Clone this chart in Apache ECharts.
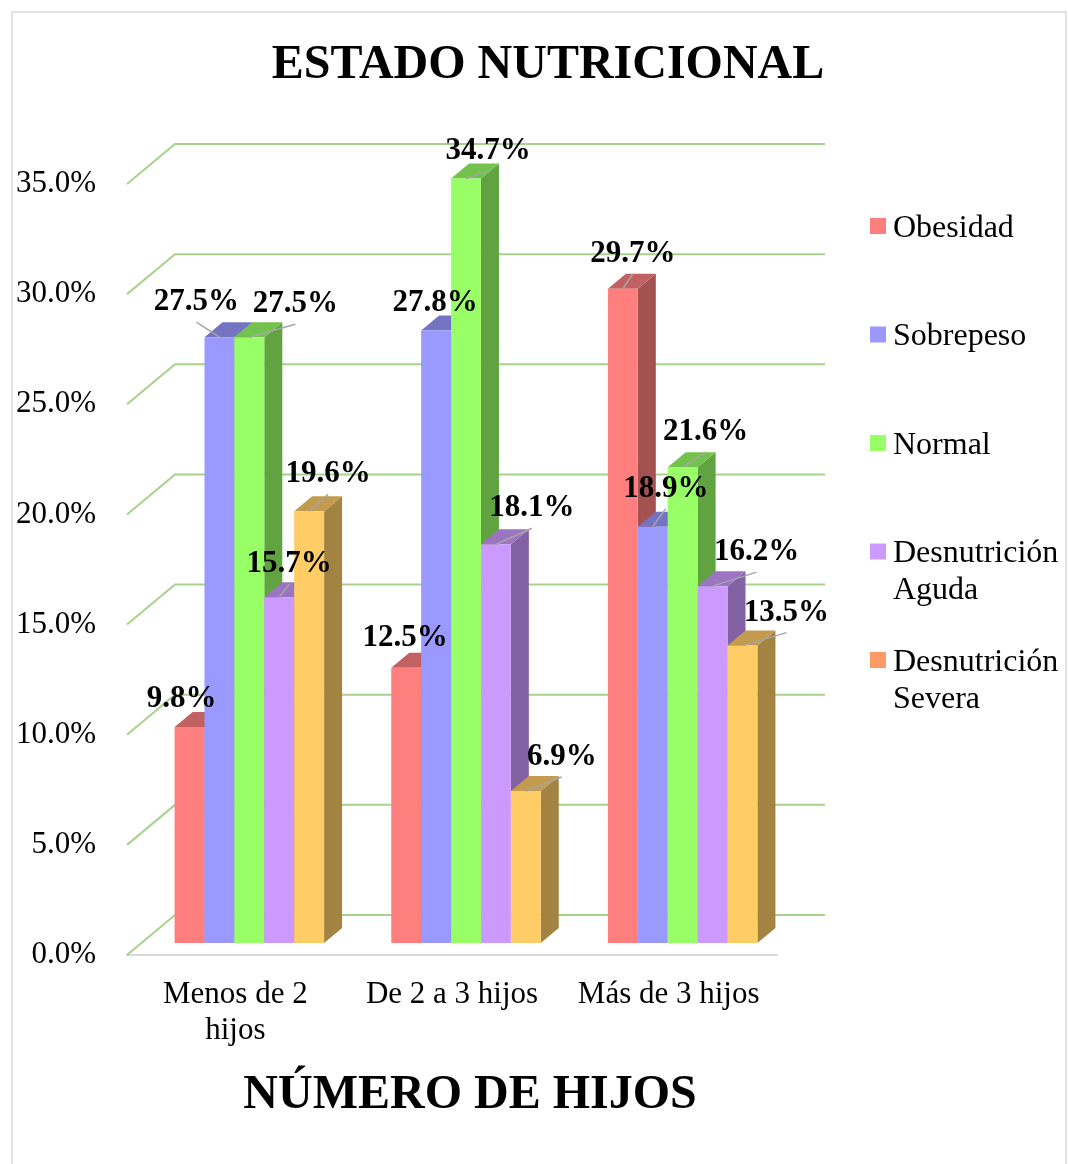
<!DOCTYPE html>
<html>
<head>
<meta charset="utf-8">
<script src="https://cdn.jsdelivr.net/npm/echarts@6/dist/echarts.min.js"></script>
<style>
  html, body { margin: 0; padding: 0; background: #fff; }
  #main { width: 1068px; height: 1164px; }
</style>
</head>
<body>
<div id="main"></div>
<script>
// datos
var categories = ['Menos de 2\nhijos', 'De 2 a 3 hijos', 'Más de 3 hijos'];
var seriesNames = ['Obesidad', 'Sobrepeso', 'Normal', 'Desnutrición Aguda', 'Desnutrición Severa'];
var obesidad = [9.8, 12.5, 29.7];
var sobrepeso = [27.5, 27.8, 18.9];
var normal = [27.5, 34.7, 21.6];
var desnAguda = [15.7, 18.1, 16.2];
var desnSevera = [19.6, 6.9, 13.5];
var yTicks = [0, 5, 10, 15, 20, 25, 30, 35];

var allValues = [obesidad, sobrepeso, normal, desnAguda, desnSevera];
var barColors = ['#FF7F7F', '#9999FF', '#99FF66', '#CC99FF', '#FFCC66'];
var legendColors = ['#FF7F7F', '#9999FF', '#99FF66', '#CC99FF', '#FF9966'];

// desplazamiento de etiquetas (como en la hoja original)
var labelNudge = [
  [[-8, -30], [-1, -32], [10, -37]],
  [[-23, -37], [-1, -30], [13, -40]],
  [[46, -35], [22, -30], [23, -37]],
  [[10, -35], [36, -38], [44, -36]],
  [[19, -39], [36, -36], [44, -35]]
];

var FONT = 'Liberation Serif, Times New Roman, serif';
var WALL_DX = 48, WALL_DY = -40;   // profundidad de las paredes
var BAR_SX = 14, BAR_SY = -12;     // barras a media profundidad
var BAR_DX = 18, BAR_DY = -15;     // profundidad de cada barra

function shade(hex, k) {
  var n = parseInt(hex.slice(1), 16);
  var r = Math.round(((n >> 16) & 255) * k);
  var g = Math.round(((n >> 8) & 255) * k);
  var b = Math.round((n & 255) * k);
  return 'rgb(' + r + ',' + g + ',' + b + ')';
}

function barGeom(api, i, v, s) {
  var base = api.coord([i, 0]);
  var top = api.coord([i, v]);
  var band = api.size([1, 0])[0];
  var w = band * 0.69 / 5;
  var x0 = base[0] - w * 2.5 + BAR_SX + s * w;
  return { x0: x0, w: w, yb: base[1] + BAR_SY, yt: top[1] + BAR_SY };
}

function renderBar(s) {
  return function (params, api) {
    var g = barGeom(api, api.value(0), api.value(1), s);
    var c = barColors[s];
    var x1 = g.x0 + g.w;
    return {
      type: 'group',
      children: [
        { type: 'polygon', shape: { points: [[x1, g.yb], [x1 + BAR_DX, g.yb + BAR_DY], [x1 + BAR_DX, g.yt + BAR_DY], [x1, g.yt]] },
          style: { fill: shade(c, 0.64) } },
        { type: 'polygon', shape: { points: [[g.x0, g.yt], [x1, g.yt], [x1 + BAR_DX, g.yt + BAR_DY], [g.x0 + BAR_DX, g.yt + BAR_DY]] },
          style: { fill: shade(c, 0.76) } },
        { type: 'rect', shape: { x: g.x0, y: g.yt, width: g.w, height: g.yb - g.yt },
          style: { fill: c } }
      ]
    };
  };
}

function renderGridLine(params, api) {
  var cs = params.coordSys;
  var p = api.coord([0, api.value(1)]);
  var xl = cs.x, xr = cs.x + cs.width;
  return {
    type: 'polyline',
    shape: { points: [[xl, p[1]], [xl + WALL_DX, p[1] + WALL_DY], [xr + WALL_DX, p[1] + WALL_DY]] },
    style: { stroke: '#A9D18E', lineWidth: 2, fill: null }
  };
}

function renderLabel(params, api) {
  var i = api.value(0), v = api.value(1), s = api.value(2);
  var g = barGeom(api, i, v, s);
  var cx = g.x0 + g.w / 2;
  var nd = labelNudge[s][i];
  var lx = cx + nd[0], ly = g.yt + nd[1] + 2;
  var children = [];
  var ex = lx, ey = ly + 20;
  var len = Math.sqrt((ex - cx) * (ex - cx) + (ey - g.yt) * (ey - g.yt));
  if (len > 14) {
    children.push({ type: 'line', shape: { x1: cx, y1: g.yt, x2: ex, y2: ey },
      style: { stroke: '#A6A6A6', lineWidth: 1.5 } });
  }
  children.push({ type: 'text', x: lx, y: ly,
    style: { text: v.toFixed(1) + '%', font: 'bold 31px ' + FONT, fill: '#000',
      align: 'center', verticalAlign: 'middle' } });
  return { type: 'group', children: children };
}

var series = [{
  type: 'custom',
  name: 'grid3d',
  z: 1,
  silent: true,
  renderItem: renderGridLine,
  data: yTicks.map(function (t) { return [0, t]; })
}];

allValues.forEach(function (vals, s) {
  series.push({
    type: 'custom',
    name: seriesNames[s],
    z: 2,
    renderItem: renderBar(s),
    itemStyle: { color: barColors[s] },
    data: vals.map(function (v, i) { return [i, v]; })
  });
});

var labelData = [];
allValues.forEach(function (vals, s) {
  vals.forEach(function (v, i) { labelData.push([i, v, s]); });
});
series.push({
  type: 'custom',
  name: 'labels',
  z: 5,
  silent: true,
  renderItem: renderLabel,
  data: labelData
});

var legendGraphics = [];
var legendLabels = ['Obesidad', 'Sobrepeso', 'Normal', 'Desnutrición\nAguda', 'Desnutrición\nSevera'];
legendLabels.forEach(function (name, k) {
  var yc = 226 + k * 108.5;
  legendGraphics.push({ type: 'rect', shape: { x: 870, y: yc - 8, width: 16, height: 16 },
    style: { fill: legendColors[k] } });
  legendGraphics.push({ type: 'text', x: 893, y: yc - 16,
    style: { text: name, font: '32px ' + FONT, fill: '#000', lineHeight: 37, verticalAlign: 'top' } });
});
legendGraphics.push({ type: 'rect', shape: { x: 12, y: 12, width: 1054, height: 1160 },
  style: { fill: null, stroke: '#D9D9D9', lineWidth: 1.5 }, z: -1 });

var myChart = echarts.init(document.getElementById('main'));
var option = {
  animation: false,
  title: [
    { text: 'ESTADO NUTRICIONAL', left: 543, top: 37, textAlign: 'center',
      textStyle: { fontFamily: FONT, fontSize: 48, fontWeight: 'bold', color: '#000' } },
    { text: 'NÚMERO DE HIJOS', left: 465, top: 1067, textAlign: 'center',
      textStyle: { fontFamily: FONT, fontSize: 48, fontWeight: 'bold', color: '#000' } }
  ],
  grid: { left: 127, right: 291, top: 184, bottom: 209 },
  xAxis: {
    type: 'category',
    data: categories,
    axisLine: { lineStyle: { color: '#D9D9D9', width: 2 } },
    axisTick: { show: false },
    axisLabel: { interval: 0, fontFamily: FONT, fontSize: 31, color: '#000', margin: 22, lineHeight: 36 }
  },
  yAxis: {
    type: 'value',
    min: 0, max: 35, interval: 5,
    axisLine: { show: false },
    axisTick: { show: false },
    splitLine: { show: false },
    axisLabel: { fontFamily: FONT, fontSize: 31, color: '#000', margin: 31, padding: [4, 0, 0, 0],
      formatter: function (v) { return v.toFixed(1) + '%'; } }
  },
  graphic: legendGraphics,
  series: series
};
myChart.setOption(option);
</script>
</body>
</html>
